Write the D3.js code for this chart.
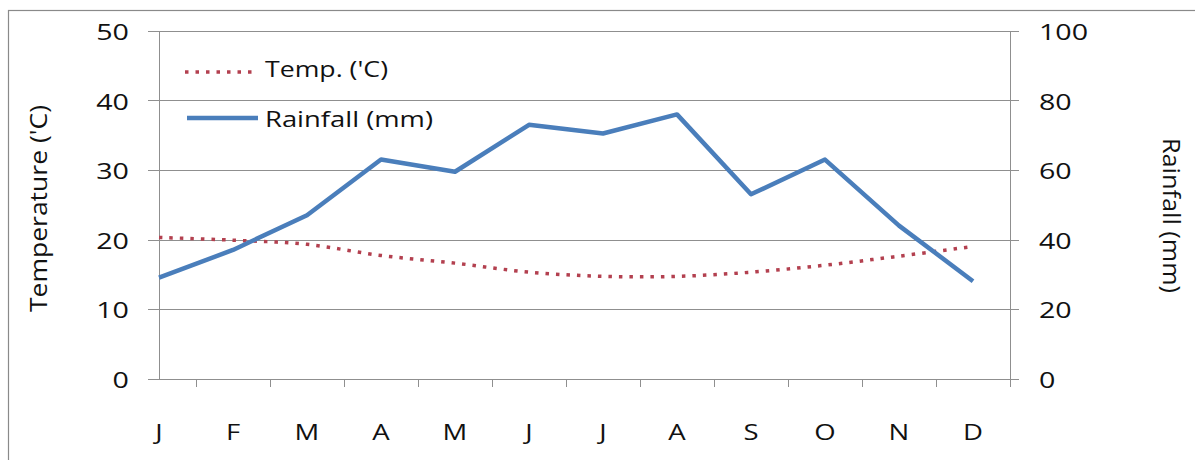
<!DOCTYPE html>
<html>
<head>
<meta charset="utf-8">
<script src="https://cdn.jsdelivr.net/npm/d3@7"></script>
<style>
  html, body { margin: 0; padding: 0; background: #fff; }
  svg { display: block; }
  text { font-family: "Open Sans", "Noto Sans", sans-serif; fill: #111; }
</style>
</head>
<body>
<svg id="chart" width="1195" height="460"></svg>
<script>
// Monthly climate data
const months = ["J", "F", "M", "A", "M", "J", "J", "A", "S", "O", "N", "D"];
const temperature = [20.3, 19.9, 19.3, 17.7, 16.6, 15.3, 14.7, 14.7, 15.3, 16.3, 17.6, 19.0];
const rainfall = [29, 37, 47, 63, 59.5, 73, 70.5, 76, 53, 63, 44, 28];
const tempTicks = [0, 10, 20, 30, 40, 50];
const rainTicks = [0, 20, 40, 60, 80, 100];
const seriesNames = ["Temp. ('C)", "Rainfall (mm)"];
const axisTitles = ["Temperature ('C)", "Rainfall (mm)"];

const svg = d3.select("#chart");
const gridColor = "#8f8f8f";
const tempColor = "#b3404f";
const rainColor = "#4a7ebb";

// Scales
const idx = d3.range(months.length);
const x = d3.scaleBand().domain(idx).range([122, 1010]).padding(0);
const cx = i => x(i) + x.bandwidth() / 2;
const plotLeft = cx(0);
const plotRight = 1010;
const yT = d3.scaleLinear().domain([0, 50]).range([378.5, 31]);
const yR = d3.scaleLinear().domain([0, 100]).range([378.5, 31]);

// Widen text horizontally by a factor
function widen(sel, k) {
  sel.each(function () {
    const w = this.getComputedTextLength();
    d3.select(this).attr("textLength", w * k).attr("lengthAdjust", "spacingAndGlyphs");
  });
}

// Outer frame
svg.append("rect")
  .attr("x", 8.5).attr("y", 10.5)
  .attr("width", 1300).attr("height", 600)
  .attr("fill", "#fff").attr("stroke", "#8a8a8a").attr("stroke-width", 1.2);

// Horizontal gridlines (with tick extensions on both sides)
svg.append("g").selectAll("line")
  .data(tempTicks)
  .join("line")
  .attr("x1", plotLeft - 11).attr("x2", plotRight + 9)
  .attr("y1", d => Math.round(yT(d)) + 0.5).attr("y2", d => Math.round(yT(d)) + 0.5)
  .attr("stroke", gridColor).attr("stroke-width", 1);

// Vertical axis lines
svg.append("line")
  .attr("x1", plotLeft + 0.5).attr("x2", plotLeft + 0.5)
  .attr("y1", Math.round(yT(50)) + 0.5).attr("y2", Math.round(yT(0)) + 0.5)
  .attr("stroke", gridColor);
svg.append("line")
  .attr("x1", plotRight + 0.5).attr("x2", plotRight + 0.5)
  .attr("y1", Math.round(yT(50)) + 0.5).attr("y2", Math.round(yT(0)) + 0.5)
  .attr("stroke", gridColor);

// Category tick marks between months
svg.append("g").selectAll("line")
  .data(idx)
  .join("line")
  .attr("x1", i => Math.round(x(i) + x.bandwidth()) + 0.5)
  .attr("x2", i => Math.round(x(i) + x.bandwidth()) + 0.5)
  .attr("y1", Math.round(yT(0)) + 0.5).attr("y2", Math.round(yT(0)) + 8)
  .attr("stroke", gridColor);

// Left axis labels
const leftLabels = svg.append("g").selectAll("text")
  .data(tempTicks)
  .join("text")
  .attr("x", 129).attr("y", d => yT(d) + 9)
  .attr("text-anchor", "end")
  .attr("font-size", 22)
  .text(d => d);
widen(leftLabels, 1.3);

// Right axis labels
const rightLabels = svg.append("g").selectAll("text")
  .data(rainTicks)
  .join("text")
  .attr("x", 1039).attr("y", d => yR(d) + 9)
  .attr("text-anchor", "start")
  .attr("font-size", 22)
  .text(d => d);
widen(rightLabels, 1.3);

// Month labels
const monthLabels = svg.append("g").selectAll("text")
  .data(idx)
  .join("text")
  .attr("x", i => cx(i)).attr("y", 440)
  .attr("text-anchor", "middle")
  .attr("font-size", 22)
  .text(i => months[i]);
widen(monthLabels, 1.25);

// Axis titles
svg.append("text")
  .attr("transform", "translate(47,208.5) rotate(-90)")
  .attr("text-anchor", "middle")
  .attr("font-size", 24)
  .attr("textLength", 207).attr("lengthAdjust", "spacingAndGlyphs")
  .text(axisTitles[0]);
svg.append("text")
  .attr("transform", "translate(1163,215.5) rotate(90)")
  .attr("text-anchor", "middle")
  .attr("font-size", 24)
  .attr("textLength", 155).attr("lengthAdjust", "spacingAndGlyphs")
  .text(axisTitles[1]);

// Temperature line (smoothed, dotted)
const tempLine = d3.line()
  .x((d, i) => cx(i))
  .y(d => yT(d))
  .curve(d3.curveCatmullRom);
svg.append("path")
  .datum(temperature)
  .attr("d", tempLine)
  .attr("fill", "none")
  .attr("stroke", tempColor)
  .attr("stroke-width", 3.5)
  .attr("stroke-dasharray", "3.5 7");

// Rainfall line
const rainLine = d3.line()
  .x((d, i) => cx(i))
  .y(d => yR(d));
svg.append("path")
  .datum(rainfall)
  .attr("d", rainLine)
  .attr("fill", "none")
  .attr("stroke", rainColor)
  .attr("stroke-width", 4.5)
  .attr("stroke-linejoin", "round");

// Legend
const legend = svg.append("g");
legend.append("line")
  .attr("x1", 185).attr("x2", 253).attr("y1", 72).attr("y2", 72)
  .attr("stroke", tempColor).attr("stroke-width", 3.5)
  .attr("stroke-dasharray", "3.5 7");
legend.append("text")
  .attr("x", 265).attr("y", 77)
  .attr("font-size", 22)
  .attr("textLength", 123).attr("lengthAdjust", "spacingAndGlyphs")
  .text(seriesNames[0]);
legend.append("line")
  .attr("x1", 187).attr("x2", 258).attr("y1", 118).attr("y2", 118)
  .attr("stroke", rainColor).attr("stroke-width", 4.5);
legend.append("text")
  .attr("x", 265).attr("y", 127)
  .attr("font-size", 22)
  .attr("textLength", 168).attr("lengthAdjust", "spacingAndGlyphs")
  .text(seriesNames[1]);
</script>
</body>
</html>
